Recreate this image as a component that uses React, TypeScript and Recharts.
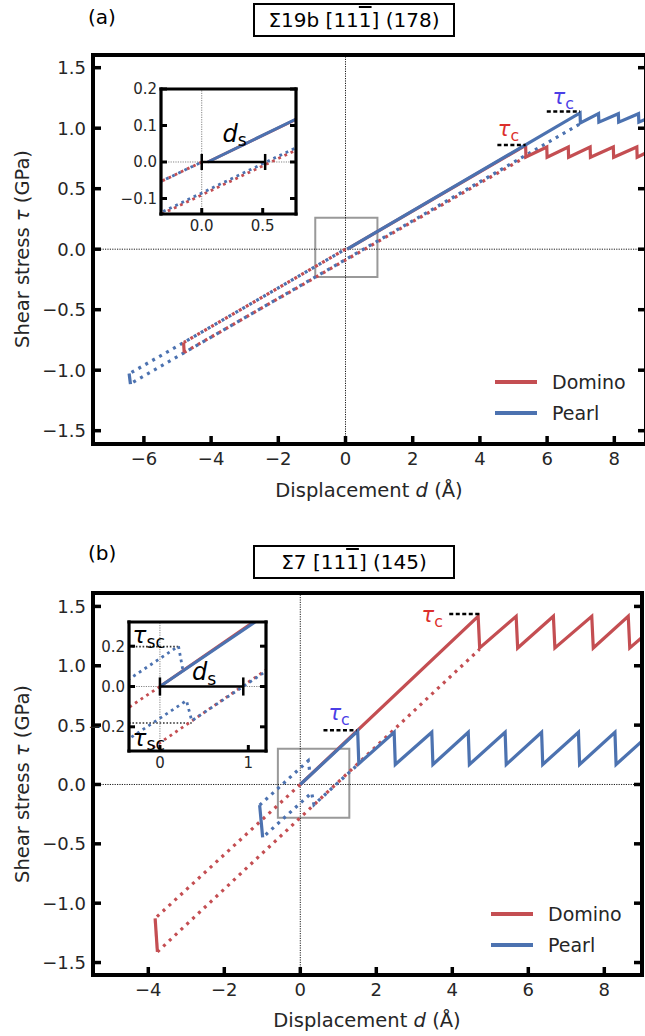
import React from 'react';
import { LineChart, Line, XAxis, YAxis, ReferenceLine, ReferenceArea, ReferenceDot } from 'recharts';

const RED = '#c44e52';
const BLUE = '#4c72b0';
const RED_TXT = '#dc2f2c';
const BLUE_TXT = '#4b3ee6';
const INK = '#262626';
const FONT = '"DejaVu Sans", sans-serif';

type Pt = { x: number; y: number };

// ---------- (a) Σ19b [11-1] (178) ----------
const aDominoLoad: Pt[] = [
  { x: 0.05, y: 0 }, { x: 5.36, y: 0.858 }, { x: 5.37, y: 0.762 },
  { x: 5.99, y: 0.845 }, { x: 6.0, y: 0.76 }, { x: 6.63, y: 0.845 }, { x: 6.64, y: 0.76 },
  { x: 7.28, y: 0.845 }, { x: 7.29, y: 0.76 }, { x: 7.97, y: 0.845 }, { x: 7.98, y: 0.76 },
  { x: 8.67, y: 0.845 }, { x: 8.68, y: 0.76 }, { x: 9.3, y: 0.845 },
];
const aPearlLoad: Pt[] = [
  { x: 0.05, y: 0 }, { x: 6.98, y: 1.126 }, { x: 6.99, y: 1.043 },
  { x: 7.53, y: 1.12 }, { x: 7.54, y: 1.05 }, { x: 8.12, y: 1.12 }, { x: 8.13, y: 1.05 },
  { x: 8.72, y: 1.12 }, { x: 8.73, y: 1.05 }, { x: 9.3, y: 1.12 },
];
const aDominoBack: Pt[] = [{ x: 0, y: 0 }, { x: -4.81, y: -0.77 }];
const aDominoReturn: Pt[] = [{ x: -4.81, y: -0.855 }, { x: 5.36, y: 0.762 }];
const aDominoSlip: Pt[] = [{ x: -4.82, y: -0.77 }, { x: -4.8, y: -0.855 }];
const aPearlBack: Pt[] = [{ x: 0, y: 0 }, { x: -6.42, y: -1.027 }];
const aPearlReturn: Pt[] = [{ x: -6.42, y: -1.115 }, { x: 6.98, y: 1.035 }];
const aPearlSlip: Pt[] = [{ x: -6.44, y: -1.027 }, { x: -6.4, y: -1.115 }];

const aTauC = [
  { x1: 4.52, x2: 5.36, y: 0.862, lx: 4.85, ly: 0.99, color: RED_TXT },
  { x1: 5.99, x2: 6.98, y: 1.138, lx: 6.48, ly: 1.26, color: BLUE_TXT },
];
const aBox = { x1: -0.9, x2: 0.95, y1: -0.23, y2: 0.26 };
const aSlipDist = { x1: 0, x2: 0.52, cap: 0.022, lx: 0.27, ly: 0.078 };

// ---------- (b) Σ7 [11-1] (145) ----------
const bDominoLoad: Pt[] = [
  { x: 0, y: 0 }, { x: 4.68, y: 1.417 }, { x: 4.72, y: 1.15 }, { x: 5.68, y: 1.417 }, { x: 5.72, y: 1.15 },
  { x: 6.66, y: 1.417 }, { x: 6.7, y: 1.15 }, { x: 7.67, y: 1.417 }, { x: 7.71, y: 1.15 },
  { x: 8.63, y: 1.417 }, { x: 8.67, y: 1.15 }, { x: 9.6, y: 1.41 },
];
const bPearlLoad: Pt[] = [
  { x: 0, y: 0 }, { x: 1.51, y: 0.449 }, { x: 1.54, y: 0.175 }, { x: 2.47, y: 0.44 }, { x: 2.5, y: 0.168 },
  { x: 3.46, y: 0.44 }, { x: 3.49, y: 0.168 }, { x: 4.42, y: 0.44 }, { x: 4.45, y: 0.168 },
  { x: 5.39, y: 0.44 }, { x: 5.42, y: 0.168 }, { x: 6.35, y: 0.44 }, { x: 6.38, y: 0.168 },
  { x: 7.32, y: 0.44 }, { x: 7.35, y: 0.168 }, { x: 8.28, y: 0.44 }, { x: 8.31, y: 0.168 }, { x: 9.25, y: 0.44 },
];
const bDominoBack: Pt[] = [{ x: 0, y: 0 }, { x: -3.82, y: -1.128 }];
const bDominoReturn: Pt[] = [{ x: -3.76, y: -1.41 }, { x: 4.72, y: 1.14 }];
const bDominoSlip: Pt[] = [{ x: -3.82, y: -1.128 }, { x: -3.76, y: -1.41 }];
const bPearlBack: Pt[] = [{ x: -1.07, y: -0.174 }, { x: 0.21, y: 0.2 }, { x: 0.26, y: 0.08 }];
const bPearlReturn: Pt[] = [{ x: -0.99, y: -0.446 }, { x: 0.3, y: -0.07 }, { x: 0.36, y: -0.17 }, { x: 1.54, y: 0.175 }];
const bPearlSlip: Pt[] = [{ x: -1.07, y: -0.174 }, { x: -0.99, y: -0.446 }];

const bTauC = [
  { x1: 3.92, x2: 4.73, y: 1.436, lx: 3.47, ly: 1.43, color: RED_TXT },
  { x1: 0.61, x2: 1.48, y: 0.457, lx: 1.02, ly: 0.6, color: BLUE_TXT },
];
const bTauSc = [
  { x2: 0.21, y: 0.198, lx: -0.31, ly: 0.255 },
  { x2: 0.36, y: -0.181, lx: -0.31, ly: -0.255 },
];
const bBox = { x1: -0.59, x2: 1.29, y1: -0.28, y2: 0.3 };
const bSlipDist = { x1: 0, x2: 0.943, cap: 0.045, lx: 0.5, ly: 0.07 };

const legendNames = ['Domino', 'Pearl'];
const legendColors = [RED, BLUE];

const mainXTicksA = [-6, -4, -2, 0, 2, 4, 6, 8];
const mainXTicksB = [-4, -2, 0, 2, 4, 6, 8];
const mainYTicks = [-1.5, -1, -0.5, 0, 0.5, 1, 1.5];
const insetXTicksA = [0, 0.5];
const insetYTicksA = [-0.1, 0, 0.1, 0.2];
const insetXTicksB = [0, 1];
const insetYTicksB = [-0.2, 0, 0.2];

// ---------- helpers ----------
type Series = { data: Pt[]; color: string; dotted?: boolean; offset?: number };

const seriesA: Series[] = [
  { data: aDominoBack, color: RED, dotted: true },
  { data: aPearlBack, color: BLUE, dotted: true, offset: 4 },
  { data: aDominoReturn, color: RED, dotted: true },
  { data: aPearlReturn, color: BLUE, dotted: true, offset: 4 },
  { data: aDominoSlip, color: RED },
  { data: aPearlSlip, color: BLUE },
  { data: aDominoLoad, color: RED },
  { data: aPearlLoad, color: BLUE },
];
const seriesB: Series[] = [
  { data: bDominoBack, color: RED, dotted: true },
  { data: bDominoReturn, color: RED, dotted: true },
  { data: bPearlBack, color: BLUE, dotted: true },
  { data: bPearlReturn, color: BLUE, dotted: true, offset: 4 },
  { data: bDominoSlip, color: RED },
  { data: bPearlSlip, color: BLUE },
  { data: bDominoLoad, color: RED },
  { data: bPearlLoad, color: BLUE },
];

const fmt0 = (v: number) => String(v).replace('-', '\u2212');
const fmt1 = (v: number) => v.toFixed(1).replace('-', '\u2212');

type Side = 'bottom' | 'top' | 'left' | 'right';
const tickFn = (side: Side, len: number, w: number, fs: number, gap: number, fmt?: (v: number) => string) =>
  (p: any) => {
    const { x, y, payload } = p;
    const dx = side === 'left' ? len : side === 'right' ? -len : 0;
    const dy = side === 'bottom' ? -len : side === 'top' ? len : 0;
    return (
      <g>
        <line x1={x} y1={y} x2={x + dx} y2={y + dy} stroke="#000" strokeWidth={w} />
        {fmt && side === 'bottom' && (
          <text x={x} y={y + gap + fs * 0.73} textAnchor="middle" fontSize={fs} fill={INK} fontFamily={FONT}>
            {fmt(payload.value)}
          </text>
        )}
        {fmt && side === 'left' && (
          <text x={x - gap} y={y + fs * 0.36} textAnchor="end" fontSize={fs} fill={INK} fontFamily={FONT}>
            {fmt(payload.value)}
          </text>
        )}
      </g>
    );
  };

type Cfg = {
  width: number; height: number;
  pad: { left: number; right: number; top: number; bottom: number };
  xDomain: [number, number]; yDomain: [number, number];
  xTicks: number[]; yTicks: number[];
  fmtX: (v: number) => string; fmtY: (v: number) => string;
  frameW: number; tickLen: number; tickW: number; fs: number; gapX: number; gapY: number;
};

const axesFor = (c: Cfg) => {
  const frame = { stroke: '#000', strokeWidth: c.frameW, strokeLinecap: 'square' as const };
  const common = { type: 'number' as const, allowDataOverflow: true, interval: 0 as const, tickSize: 0, tickMargin: 0, tickLine: false, axisLine: frame };
  return [
    <XAxis key="xb" xAxisId={0} orientation="bottom" dataKey="x" domain={c.xDomain} ticks={c.xTicks} height={c.pad.bottom}
      tick={tickFn('bottom', c.tickLen, c.tickW, c.fs, c.gapX, c.fmtX)} {...common} />,
    <XAxis key="xt" xAxisId="t" orientation="top" domain={c.xDomain} ticks={c.xTicks} height={c.pad.top}
      tick={tickFn('top', c.tickLen, c.tickW, c.fs, 0)} {...common} />,
    <YAxis key="yl" yAxisId={0} orientation="left" domain={c.yDomain} ticks={c.yTicks} width={c.pad.left}
      tick={tickFn('left', c.tickLen, c.tickW, c.fs, c.gapY, c.fmtY)} {...common} />,
    <YAxis key="yr" yAxisId="r" orientation="right" domain={c.yDomain} ticks={c.yTicks} width={c.pad.right}
      tick={tickFn('right', c.tickLen, c.tickW, c.fs, 0)} {...common} />,
  ];
};

const linesFor = (list: Series[], solidW: number, dotW: number, dash: string) =>
  list.map((s, i) => (
    <Line key={`s${i}`} data={s.data} dataKey="y" type="linear" stroke={s.color}
      strokeWidth={s.dotted ? dotW : solidW} strokeDasharray={s.dotted ? dash : undefined}
      strokeDashoffset={s.offset} dot={false} activeDot={false} isAnimationActive={false} />
  ));

const zeroLines = (color: string, w: number) => [
  <ReferenceLine key="zx" x={0} stroke={color} strokeWidth={w} strokeDasharray="1.2 1.2" />,
  <ReferenceLine key="zy" y={0} stroke={color} strokeWidth={w} strokeDasharray="1.2 1.2" />,
];

const textDot = (key: string, x: number, y: number, render: (cx: number, cy: number) => React.ReactElement) => (
  <ReferenceDot key={key} x={x} y={y} r={0} ifOverflow="visible" shape={(p: any) => render(p.cx, p.cy)} />
);

const tauText = (color: string, sub: string, fs: number, anchor: 'middle' | 'start') => (cx: number, cy: number) => (
  <text x={cx} y={cy} textAnchor={anchor} dominantBaseline="central" fill={color} fontFamily={FONT} fontSize={fs}>
    <tspan fontStyle="italic">τ</tspan>
    <tspan fontSize={fs * 0.75} dy={fs * 0.28}>{sub}</tspan>
  </text>
);

const dsText = (fs: number) => (cx: number, cy: number) => (
  <text x={cx} y={cy} textAnchor="middle" dominantBaseline="central" fill="#000" fontFamily={FONT} fontSize={fs}>
    <tspan fontStyle="italic">d</tspan>
    <tspan fontSize={fs * 0.72} dy={fs * 0.28}>s</tspan>
  </text>
);

const tauCMarks = (list: typeof aTauC) =>
  list.flatMap((t, i) => [
    <ReferenceLine key={`tc${i}`} segment={[{ x: t.x1, y: t.y }, { x: t.x2, y: t.y }]} stroke="#000" strokeWidth={2.5} strokeDasharray="4 2.5" />,
    textDot(`tl${i}`, t.lx, t.ly, tauText(t.color, 'c', 21, 'middle')),
  ]);

const slipBar = (s: typeof aSlipDist, fs: number) => [
  <ReferenceLine key="ds" segment={[{ x: s.x1, y: 0 }, { x: s.x2, y: 0 }]} stroke="#000" strokeWidth={2.5} />,
  <ReferenceLine key="ds1" segment={[{ x: s.x1, y: -s.cap }, { x: s.x1, y: s.cap }]} stroke="#000" strokeWidth={2.5} />,
  <ReferenceLine key="ds2" segment={[{ x: s.x2, y: -s.cap }, { x: s.x2, y: s.cap }]} stroke="#000" strokeWidth={2.5} />,
  textDot('dsl', s.lx, s.ly, dsText(fs)),
];

// ---------- configs ----------
const mainPad = { left: 93, right: 4, top: 55, bottom: 56 };
const cfgA: Cfg = {
  width: 650, height: 500, pad: mainPad, xDomain: [-7.515, 8.943], yDomain: [-1.61, 1.605],
  xTicks: mainXTicksA, yTicks: mainYTicks, fmtX: fmt0, fmtY: fmt1,
  frameW: 4, tickLen: 8, tickW: 3.5, fs: 18, gapX: 8, gapY: 7,
};
const cfgB: Cfg = {
  ...cfgA, width: 646, height: 493, xDomain: [-5.455, 8.992], yDomain: [-1.605, 1.613], xTicks: mainXTicksB,
};
const insetPad = { left: 42, right: 4, top: 12, bottom: 26 };
const cfgIA: Cfg = {
  width: 181, height: 163, pad: insetPad, xDomain: [-0.334, 0.773], yDomain: [-0.1425, 0.2],
  xTicks: insetXTicksA, yTicks: insetYTicksA, fmtX: fmt1, fmtY: fmt1,
  frameW: 3.2, tickLen: 6, tickW: 3, fs: 15, gapX: 6, gapY: 4,
};
const cfgIB: Cfg = {
  ...cfgIA, width: 183, height: 167, xDomain: [-0.35, 1.2], yDomain: [-0.32, 0.32],
  xTicks: insetXTicksB, yTicks: insetYTicksB, fmtX: fmt0,
};

const Legend2 = ({ left, top }: { left: number; top: number }) => (
  <div style={{ position: 'absolute', left, top, fontSize: 19, color: INK, fontFamily: FONT }}>
    {legendNames.map((n, i) => (
      <div key={n} style={{ display: 'flex', alignItems: 'center', height: 31 }}>
        <span style={{ display: 'inline-block', width: 42, height: 4, background: legendColors[i], marginRight: 15 }} />
        {n}
      </div>
    ))}
  </div>
);

const Title = ({ top, children }: { top: number; children: React.ReactNode }) => (
  <div style={{
    position: 'absolute', left: 253, top, width: 198, height: 30, border: '2px solid #000',
    fontSize: 20, lineHeight: '30px', textAlign: 'center', color: '#000', fontFamily: FONT, whiteSpace: 'nowrap',
  }}>{children}</div>
);

const Bar1 = () => <span style={{ textDecoration: 'overline' }}>1</span>;

const YTitle = ({ cy }: { cy: number }) => (
  <div style={{
    position: 'absolute', left: 22, top: cy, transform: 'translate(-50%, -50%) rotate(-90deg)',
    fontSize: 19.5, whiteSpace: 'nowrap', color: INK, fontFamily: FONT,
  }}>Shear stress <i>τ</i> (GPa)</div>
);

const XTitle = ({ cx, cy }: { cx: number; cy: number }) => (
  <div style={{
    position: 'absolute', left: cx, top: cy, transform: 'translate(-50%, -50%)',
    fontSize: 19.5, whiteSpace: 'nowrap', color: INK, fontFamily: FONT,
  }}>Displacement <i>d</i> (Å)</div>
);

const at = (left: number, top: number, el: React.ReactNode) => (
  <div style={{ position: 'absolute', left, top }}>{el}</div>
);

export default function App() {
  return (
    <div style={{ position: 'absolute', left: 0, top: 0, width: 645, height: 1036, overflow: 'hidden', background: '#fff', fontFamily: FONT }}>
      {/* panel (a) */}
      <div style={{ position: 'absolute', left: 88, top: 5, fontSize: 20, color: '#000' }}>(a)</div>
      <Title top={3}>Σ19b [11<Bar1 />] (178)</Title>
      {at(0, 0,
        <LineChart width={cfgA.width} height={cfgA.height} margin={{ top: 0, right: 0, bottom: 0, left: 0 }}>
          {axesFor(cfgA)}
          {zeroLines('#000', 0.9)}
          <ReferenceArea x1={aBox.x1} x2={aBox.x2} y1={aBox.y1} y2={aBox.y2} fill="none" stroke="#999" strokeWidth={2} />
          {linesFor(seriesA, 3.2, 3.2, '3 5')}
          {tauCMarks(aTauC)}
        </LineChart>
      )}
      {at(119, 77,
        <LineChart width={cfgIA.width} height={cfgIA.height} margin={{ top: 0, right: 0, bottom: 0, left: 0 }}>
          {axesFor(cfgIA)}
          {zeroLines('#777', 0.9)}
          {linesFor(seriesA, 3, 2.8, '2.8 4')}
          {slipBar(aSlipDist, 24)}
        </LineChart>
      )}
      <Legend2 left={495} top={366} />
      <YTitle cy={249} />
      <XTitle cx={369} cy={490} />

      {/* panel (b) */}
      <div style={{ position: 'absolute', left: 88, top: 541, fontSize: 20, color: '#000' }}>(b)</div>
      <Title top={545}>Σ7 [11<Bar1 />] (145)</Title>
      {at(0, 538,
        <LineChart width={cfgB.width} height={cfgB.height} margin={{ top: 0, right: 0, bottom: 0, left: 0 }}>
          {axesFor(cfgB)}
          {zeroLines('#000', 0.9)}
          <ReferenceArea x1={bBox.x1} x2={bBox.x2} y1={bBox.y1} y2={bBox.y2} fill="none" stroke="#999" strokeWidth={2} />
          {linesFor(seriesB, 3.2, 3.2, '3 5')}
          {tauCMarks(bTauC)}
        </LineChart>
      )}
      {at(87, 610,
        <LineChart width={cfgIB.width} height={cfgIB.height} margin={{ top: 0, right: 0, bottom: 0, left: 0 }}>
          {axesFor(cfgIB)}
          {zeroLines('#777', 0.9)}
          {bTauSc.map((t, i) => (
            <ReferenceLine key={`sc${i}`} segment={[{ x: -0.35, y: t.y }, { x: t.x2, y: t.y }]} stroke="#333" strokeWidth={1.6} strokeDasharray="1.6 1.8" />
          ))}
          {linesFor(seriesB, 3, 2.8, '2.8 4')}
          {slipBar(bSlipDist, 24)}
          {bTauSc.map((t, i) => textDot(`scl${i}`, t.lx, t.ly, tauText('#000', 'sc', 23, 'start')))}
        </LineChart>
      )}
      <Legend2 left={491} top={898} />
      <YTitle cy={784} />
      <XTitle cx={367} cy={1020} />
    </div>
  );
}
